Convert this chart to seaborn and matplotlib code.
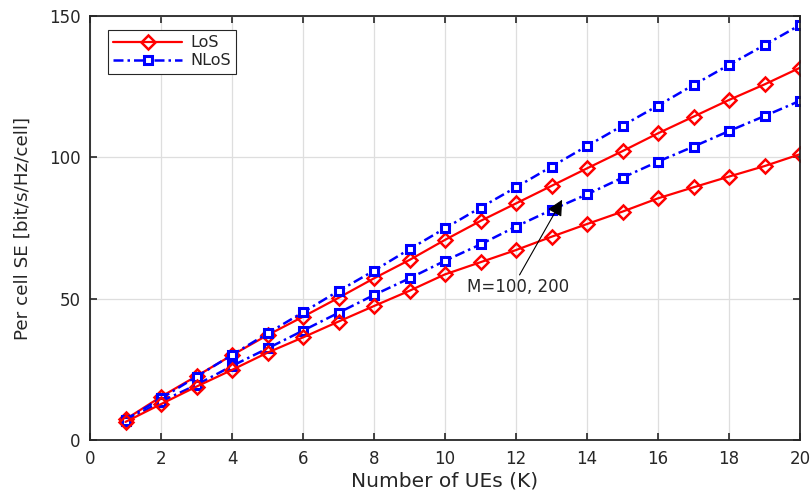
import matplotlib
matplotlib.use("Agg")
import matplotlib.pyplot as plt
import seaborn as sns
import pandas as pd

K = list(range(1, 21))
los_m200 = [7.3, 15.3, 22.6, 30.0, 37.1, 43.6, 50.3, 57.2, 63.7, 70.8,
            77.5, 83.7, 89.9, 96.1, 102.2, 108.5, 114.4, 120.3, 125.8, 131.7]
nlos_m200 = [7.2, 14.7, 22.4, 30.1, 37.7, 45.2, 52.7, 59.9, 67.5, 74.9,
             82.2, 89.4, 96.7, 104.0, 111.2, 118.3, 125.6, 132.7, 139.7, 146.8]
nlos_m100 = [6.6, 13.6, 19.5, 26.2, 32.4, 38.7, 45.0, 51.3, 57.2, 63.4,
             69.2, 75.5, 81.4, 86.9, 92.8, 98.5, 103.8, 109.3, 114.6, 120.0]
los_m100 = [6.4, 12.7, 18.9, 24.8, 30.9, 36.3, 41.9, 47.4, 52.8, 58.6,
            62.9, 67.2, 71.9, 76.4, 80.8, 85.5, 89.4, 93.2, 96.9, 101.1]

x_ticks = [0, 2, 4, 6, 8, 10, 12, 14, 16, 18, 20]
y_ticks = [0, 50, 100, 150]
x_label = "Number of UEs (K)"
y_label = "Per cell SE [bit/s/Hz/cell]"
annot_text = "M=100, 200"

sns.set_style("whitegrid", {
    "grid.color": "#dedede",
    "axes.edgecolor": "#262626",
    "xtick.direction": "in",
    "ytick.direction": "in",
    "xtick.top": True,
    "ytick.right": True,
    "xtick.bottom": True,
    "ytick.left": True,
})
plt.rcParams["font.family"] = ["DejaVu Sans"]
plt.rcParams["xtick.color"] = "#262626"
plt.rcParams["ytick.color"] = "#262626"

fig = plt.figure(figsize=(8.11, 4.95), dpi=100)
ax = fig.add_axes([90 / 811, 55 / 495, 710 / 811, 424 / 495])

los_style = dict(color="#ff0000", linestyle="-", linewidth=1.6, marker="D",
                 markersize=7.5, markerfacecolor="none", markeredgecolor="#ff0000",
                 markeredgewidth=1.8)
nlos_style = dict(color="#0000ff", linestyle=(0, (4, 1.6, 1, 1.6)), linewidth=1.8,
                  marker="s", markersize=6, markerfacecolor="white",
                  markeredgecolor="#0000ff", markeredgewidth=2.2)

df = pd.DataFrame({"K": K, "los200": los_m200, "nlos200": nlos_m200,
                   "nlos100": nlos_m100, "los100": los_m100})

sns.lineplot(data=df, x="K", y="los200", ax=ax, label="LoS", **los_style)
sns.lineplot(data=df, x="K", y="nlos200", ax=ax, label="NLoS", **nlos_style)
sns.lineplot(data=df, x="K", y="nlos100", ax=ax, **nlos_style)
sns.lineplot(data=df, x="K", y="los100", ax=ax, **los_style)

ax.set_xlim(0, 20)
ax.set_ylim(0, 150)
ax.set_xticks(x_ticks)
ax.set_yticks(y_ticks)
ax.tick_params(axis="both", which="both", length=5, width=1.2, labelsize=12,
               direction="in", top=True, right=True, pad=7)
ax.grid(True, color="#dedede", linewidth=0.9)
for s in ax.spines.values():
    s.set_visible(True)
    s.set_color("#262626")
    s.set_linewidth(1.3)

ax.set_xlabel(x_label, fontsize=14.5, color="#262626", labelpad=3)
ax.set_ylabel(y_label, fontsize=13.2, color="#262626", labelpad=12)

ax.annotate("", xy=(13.3, 85.0), xytext=(12.1, 58.4),
            arrowprops=dict(arrowstyle="-|>", color="black", lw=0.8,
                            mutation_scale=24, shrinkA=0, shrinkB=0))
ax.text(10.62, 52.3, annot_text, fontsize=12, color="#262626",
        ha="left", va="baseline")

leg = ax.legend(loc="upper left", bbox_to_anchor=(0.025, 0.968), fontsize=11.5,
                frameon=True, fancybox=False, framealpha=1, edgecolor="#262626",
                handlelength=4.3, borderpad=0.35, labelspacing=0.2,
                handletextpad=0.5, borderaxespad=0)
leg.get_frame().set_linewidth(0.8)

fig.savefig("out.png", dpi=100, facecolor="white")
